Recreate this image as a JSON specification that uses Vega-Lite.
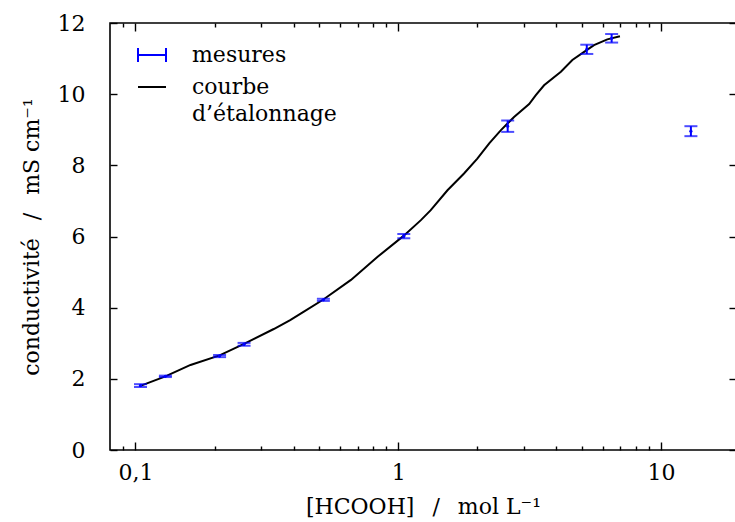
{
  "$schema": "https://vega.github.io/schema/vega-lite/v6.json",
  "autosize": "none",
  "width": 626,
  "height": 427,
  "padding": {"left": 110, "top": 23, "right": 0, "bottom": 72},
  "background": "white",
  "config": {
    "font": "DejaVu Serif",
    "view": {"stroke": "black", "strokeWidth": 1.6},
    "axis": {
      "labelFont": "DejaVu Serif",
      "titleFont": "DejaVu Serif",
      "labelFontSize": 22,
      "titleFontSize": 22,
      "titleFontWeight": "normal",
      "labelColor": "black",
      "titleColor": "black",
      "domain": false,
      "grid": false,
      "labelOverlap": false,
      "labelFlush": false
    }
  },
  "datasets": {
    "mesures": [
      {"c": 0.1045, "k": 1.81, "e": 0.04},
      {"c": 0.130, "k": 2.07, "e": 0.02},
      {"c": 0.209, "k": 2.64, "e": 0.03},
      {"c": 0.259, "k": 2.97, "e": 0.04},
      {"c": 0.519, "k": 4.22, "e": 0.03},
      {"c": 1.05, "k": 6.01, "e": 0.06},
      {"c": 2.61, "k": 9.10, "e": 0.16},
      {"c": 5.22, "k": 11.26, "e": 0.13},
      {"c": 6.49, "k": 11.57, "e": 0.12},
      {"c": 13.0, "k": 8.96, "e": 0.14}
    ],
    "courbe": [
      {"c": 0.105, "k": 1.81, "serie": "courbe d'étalonnage"},
      {"c": 0.13, "k": 2.07, "serie": "courbe d'étalonnage"},
      {"c": 0.162, "k": 2.39, "serie": "courbe d'étalonnage"},
      {"c": 0.209, "k": 2.66, "serie": "courbe d'étalonnage"},
      {"c": 0.259, "k": 2.98, "serie": "courbe d'étalonnage"},
      {"c": 0.336, "k": 3.40, "serie": "courbe d'étalonnage"},
      {"c": 0.388, "k": 3.65, "serie": "courbe d'étalonnage"},
      {"c": 0.436, "k": 3.88, "serie": "courbe d'étalonnage"},
      {"c": 0.519, "k": 4.23, "serie": "courbe d'étalonnage"},
      {"c": 0.661, "k": 4.78, "serie": "courbe d'étalonnage"},
      {"c": 0.835, "k": 5.43, "serie": "courbe d'étalonnage"},
      {"c": 1.045, "k": 6.01, "serie": "courbe d'étalonnage"},
      {"c": 1.22, "k": 6.46, "serie": "courbe d'étalonnage"},
      {"c": 1.33, "k": 6.74, "serie": "courbe d'étalonnage"},
      {"c": 1.54, "k": 7.30, "serie": "courbe d'étalonnage"},
      {"c": 1.78, "k": 7.77, "serie": "courbe d'étalonnage"},
      {"c": 2.00, "k": 8.19, "serie": "courbe d'étalonnage"},
      {"c": 2.22, "k": 8.62, "serie": "courbe d'étalonnage"},
      {"c": 2.46, "k": 8.99, "serie": "courbe d'étalonnage"},
      {"c": 2.76, "k": 9.36, "serie": "courbe d'étalonnage"},
      {"c": 3.15, "k": 9.72, "serie": "courbe d'étalonnage"},
      {"c": 3.34, "k": 9.97, "serie": "courbe d'étalonnage"},
      {"c": 3.59, "k": 10.25, "serie": "courbe d'étalonnage"},
      {"c": 4.16, "k": 10.63, "serie": "courbe d'étalonnage"},
      {"c": 4.60, "k": 10.96, "serie": "courbe d'étalonnage"},
      {"c": 5.10, "k": 11.19, "serie": "courbe d'étalonnage"},
      {"c": 5.56, "k": 11.38, "serie": "courbe d'étalonnage"},
      {"c": 6.25, "k": 11.54, "serie": "courbe d'étalonnage"},
      {"c": 6.98, "k": 11.63, "serie": "courbe d'étalonnage"}
    ]
  },
  "layer": [
    {
      "data": {"name": "courbe"},
      "mark": {"type": "line", "strokeWidth": 2},
      "encoding": {
        "x": {
          "field": "c", "type": "quantitative",
          "scale": {"type": "log", "domain": [0.08, 19.3], "nice": false},
          "axis": {
            "orient": "bottom", "values": [0.1, 1, 10], "offset": -8,
            "labelExpr": "datum.value < 0.5 ? '0,1' : (datum.value < 5 ? '1' : '10')",
            "ticks": true, "tickSize": 8, "tickColor": "#000000", "tickWidth": 1.4, "tickOpacity": 1, "labelPadding": 12,
            "title": "[HCOOH] \u2002/\u2002 mol L⁻¹", "titlePadding": 13
          }
        },
        "y": {
          "field": "k", "type": "quantitative",
          "scale": {"domain": [0, 12], "nice": false, "zero": false},
          "axis": {
            "orient": "left", "values": [0, 2, 4, 6, 8, 10, 12], "offset": -7,
            "ticks": true, "tickSize": 7, "tickColor": "#000000", "tickWidth": 1.4, "tickOpacity": 1, "labelPadding": 25,
            "title": "conductivité \u2002/\u2002 mS cm⁻¹", "titlePadding": 14
          }
        },
        "color": {
          "field": "serie", "type": "nominal",
          "scale": {"domain": ["mesures", "courbe d'étalonnage"], "range": ["#0000ff", "#000000"]},
          "legend": {
            "title": null,
            "orient": "none",
            "legendX": 27,
            "legendY": 17,
            "labelFont": "DejaVu Serif",
            "labelFontSize": 22,
            "labelColor": "black",
            "symbolSize": 784,
            "symbolStrokeWidth": 2,
            "labelOffset": 25,
            "rowPadding": 6,
            "labelLimit": 400,
            "labelExpr": "datum.value == 'mesures' ? 'mesures' : ['courbe', 'd\u2019étalonnage']",
            "encode": {
              "symbols": {
                "update": {
                  "shape": {"signal": "datum.value == 'mesures' ? 'M-1,-0.5V0.5M-1,0H1M1,-0.5V0.5' : 'M-1,0H1'"}
                }
              },
              "labels": {
                "update": {"lineHeight": {"value": 27}}
              }
            }
          }
        }
      }
    },
    {
      "data": {"name": "mesures"},
      "mark": {"type": "errorbar", "color": "#0000ff", "thickness": 2, "ticks": {"size": 13, "thickness": 2, "color": "#0000ff"}},
      "encoding": {
        "x": {
          "field": "c", "type": "quantitative",
          "axis": {"orient": "top", "values": [0.1, 1, 10], "offset": -8, "labels": false, "ticks": true, "tickSize": 8, "tickColor": "#000000", "tickWidth": 1.4, "tickOpacity": 1, "title": null}
        },
        "y": {
          "field": "k", "type": "quantitative",
          "axis": {"orient": "right", "values": [0, 2, 4, 6, 8, 10, 12], "offset": -7, "labels": false, "ticks": true, "tickSize": 7, "tickColor": "#000000", "tickWidth": 1.4, "tickOpacity": 1, "title": null}
        },
        "yError": {"field": "e"}
      }
    },
    {
      "data": {"name": "mesures"},
      "mark": {"type": "point", "filled": true, "size": 10, "color": "#0000ff", "opacity": 1},
      "encoding": {
        "x": {
          "field": "c", "type": "quantitative",
          "axis": {"orient": "bottom", "values": [0.09, 0.2, 0.3, 0.4, 0.5, 0.6, 0.7, 0.8, 0.9, 2, 3, 4, 5, 6, 7, 8, 9], "offset": -4, "labels": false, "ticks": true, "tickSize": 4, "tickColor": "#000000", "tickWidth": 1.4, "tickOpacity": 1, "title": null}
        },
        "y": {"field": "k", "type": "quantitative", "axis": null}
      }
    },
    {
      "data": {"name": "mesures"},
      "mark": {"type": "point", "opacity": 0},
      "encoding": {
        "x": {
          "field": "c", "type": "quantitative",
          "axis": {"orient": "top", "values": [0.09, 0.2, 0.3, 0.4, 0.5, 0.6, 0.7, 0.8, 0.9, 2, 3, 4, 5, 6, 7, 8, 9], "offset": -4, "labels": false, "ticks": true, "tickSize": 4, "tickColor": "#000000", "tickWidth": 1.4, "tickOpacity": 1, "title": null}
        },
        "y": {"field": "k", "type": "quantitative", "axis": null}
      }
    }
  ],
  "resolve": {"axis": {"x": "independent", "y": "independent"}}
}
